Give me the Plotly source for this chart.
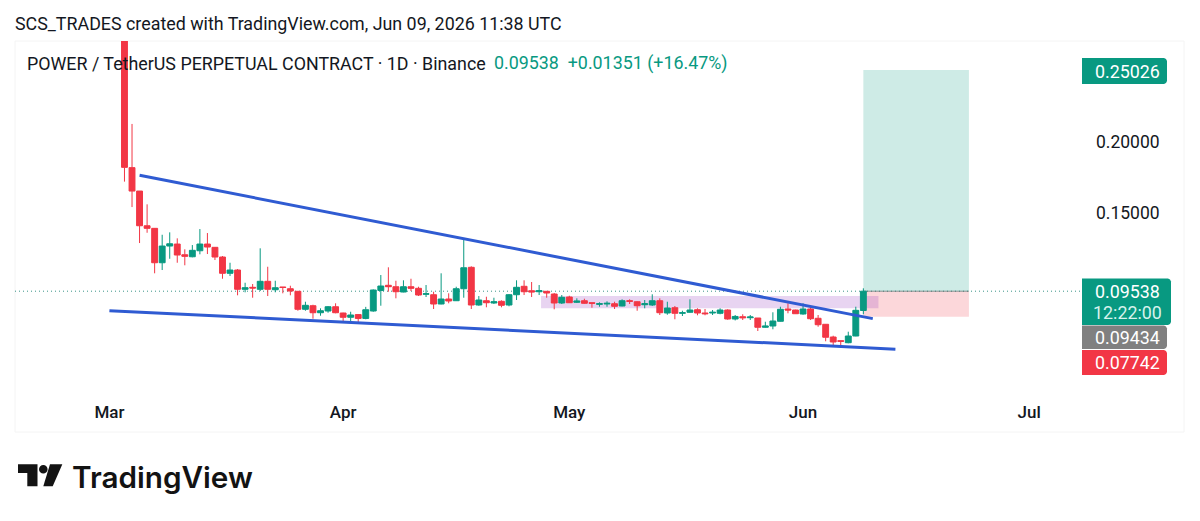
import pandas as pd
import plotly.graph_objects as go

# Daily POWER/USDT perpetual candles, first session 2026-03-03
opens = [
    .330, .1819, .1655, .1412, .1394, .1153, .1270, .1284, .1209, .1195,
    .1237, .1284, .1261, .1193, .1079, .1102, .0967, .0981, .0967, .1023,
    .0964, .0983, .0971, .0953, .0827, .0852, .0803, .0815, .0845, .0801,
    .0771, .0790, .0763, .0815, .0959, .0995, .0985, .0948, .0985, .0974,
    .0932, .0929, .0864, .0899, .0887, .0971, .1121, .0857, .0887, .0871,
    .0883, .0857, .0929, .0988, .0957, .0950, .0953, .0934, .0871, .0913,
    .0876, .0887, .0873, .0862, .0864, .0866, .0850, .0887, .0880, .0859,
    .0857, .0887, .0801, .0838, .0799, .0806, .0824, .0801, .0801, .0799,
    .0822, .0759, .0775, .0768, .0766, .0701, .0710, .0743, .0829, .0822,
    .0794, .0829, .0764, .0722, .0633, .0607, .0593, .0640, .08187,
]
highs = [
    .360, .2125, .1655, .1562, .1396, .1349, .1366, .1324, .1247, .1277,
    .1389, .1361, .1263, .1200, .1153, .1109, .1013, .1004, .1254, .1125,
    .1027, .0983, .0992, .0955, .0880, .0859, .0834, .0850, .0869, .0803,
    .0810, .0794, .0844, .0966, .1067, .1121, .1027, .1030, .1041, .0985,
    .0997, .0950, .1079, .0939, .0985, .1312, .1128, .0920, .0915, .0908,
    .0890, .0934, .1030, .1030, .1018, .0997, .0955, .0941, .0927, .0922,
    .0904, .0901, .0873, .0876, .0883, .0880, .0897, .0897, .0883, .0892,
    .0932, .0904, .0880, .0850, .0817, .0897, .0834, .0829, .0822, .0834,
    .0827, .0787, .0792, .0787, .0766, .0740, .0806, .0845, .0869, .0824,
    .0869, .0841, .0787, .0724, .0642, .0607, .0670, .0845, .0974,
]
lows = [
    .1721, .1543, .1291, .1363, .1079, .1102, .1181, .1153, .1135, .1191,
    .1212, .1214, .1172, .1041, .1060, .0925, .0946, .0908, .0955, .0920,
    .0946, .0939, .0925, .0817, .0817, .0761, .0782, .0803, .0799, .0731,
    .0740, .0731, .0757, .0810, .0852, .0950, .0904, .0946, .0955, .0920,
    .0913, .0829, .0862, .0869, .0885, .0908, .0829, .0852, .0841, .0864,
    .0841, .0848, .0892, .0927, .0913, .0927, .0908, .0827, .0864, .0871,
    .0871, .0866, .0838, .0845, .0845, .0829, .0848, .0864, .0817, .0834,
    .0850, .0787, .0789, .0757, .0780, .0803, .0785, .0785, .0787, .0792,
    .0754, .0749, .0752, .0752, .0675, .0698, .0687, .0741, .0799, .0794,
    .0789, .0752, .0705, .0603, .0565, .0563, .0589, .0638, .0792,
]
closes = [
    .1821, .1655, .1412, .1394, .1153, .1270, .1286, .1207, .1198, .1240,
    .1284, .1263, .1193, .1079, .1102, .0967, .0978, .0976, .1023, .0967,
    .0978, .0980, .0955, .0827, .0855, .0803, .0817, .0845, .0803, .0771,
    .0787, .0763, .0824, .0962, .0990, .0985, .0950, .0985, .0974, .0927,
    .0936, .0864, .0899, .0885, .0971, .1118, .0857, .0892, .0873, .0880,
    .0855, .0929, .0981, .0950, .0948, .0957, .0941, .0871, .0911, .0873,
    .0885, .0869, .0869, .0866, .0869, .0848, .0887, .0883, .0852, .0866,
    .0887, .0803, .0836, .0799, .0803, .0822, .0801, .0796, .0806, .0822,
    .0759, .0777, .0768, .0773, .0701, .0710, .0745, .0827, .0822, .0796,
    .0829, .0761, .0719, .0631, .0598, .0603, .0640, .0820, .09538,
]
dates = pd.date_range("2026-03-03", periods=len(closes), freq="D")

# Falling-wedge trendlines
upper_dates = ["2026-03-05", "2026-06-10 06:00"]
upper_prices = [.17654, .07615]
lower_dates = ["2026-03-01", "2026-06-13 06:00"]
lower_prices = [.08172, .05480]

# Long position tool and the supply zone
last_price = .09538
target_price = .25026
stop_price = .07742
position_start, position_end = "2026-06-09", "2026-06-23"
zone_start, zone_end = "2026-04-27 06:00", "2026-06-11"
zone_low, zone_high = .0834, .0920

month_ticks = ["2026-03-01", "2026-04-01", "2026-05-01", "2026-06-01", "2026-07-01"]
month_labels = ["Mar", "Apr", "May", "Jun", "Jul"]
price_ticks = [.15, .20]
price_labels = ["0.15000", "0.20000"]

GREEN = "#089981"
RED = "#F23645"
INK = "#131722"
BLUE = "#2F5BD2"
FONT = "Roboto"

# Plot rectangle inside the 1200x521 page
LEFT, RIGHT, TOP, BOTTOM = 15, 1082, 41, 396


def px(x):
    return (x - LEFT) / (RIGHT - LEFT)


def py(y):
    return (BOTTOM - y) / (BOTTOM - TOP)


def page_path(points):
    return "M" + " L".join(f"{px(a):.5f},{py(b):.5f}" for a, b in points) + " Z"


def pill(x0, x1, y0, y1, color, r=3):
    """Price tag with softly rounded right corners."""
    steps = [(x0, y0), (x1 - r, y0), (x1 - 1, y0 + 1), (x1, y0 + r),
             (x1, y1 - r), (x1 - 1, y1 - 1), (x1 - r, y1), (x0, y1)]
    return dict(type="path", xref="paper", yref="paper", path=page_path(steps),
                fillcolor=color, line_width=0, layer="above")


def label(x, y, text, color=INK, size=17.85, anchor="left"):
    return dict(xref="paper", yref="paper", x=px(x), y=py(y), text=text, showarrow=False,
                xanchor=anchor, yanchor="middle", align="left",
                xshift=-2 if anchor == "left" else 0,
                font=dict(family=FONT, size=size, color=color))


fig = go.Figure()
fig.add_trace(go.Candlestick(
    x=dates, open=opens, high=highs, low=lows, close=closes,
    increasing=dict(line=dict(color=GREEN, width=1), fillcolor=GREEN),
    decreasing=dict(line=dict(color=RED, width=1), fillcolor=RED),
    whiskerwidth=0, hoverinfo="skip", showlegend=False,
))
for xs, ys in ((upper_dates, upper_prices), (lower_dates, lower_prices)):
    fig.add_trace(go.Scatter(x=xs, y=ys, mode="lines", line=dict(color=BLUE, width=3),
                             hoverinfo="skip", showlegend=False))

shapes = [
    # Card outline
    dict(type="rect", xref="paper", yref="paper", x0=px(15), x1=px(1184), y0=py(432), y1=py(41),
         line=dict(color="#F4F4F4", width=1), layer="below"),
    dict(type="rect", x0=position_start, x1=position_end, y0=last_price, y1=target_price,
         fillcolor="rgba(8,153,129,0.2)", line_width=0, layer="below"),
    dict(type="rect", x0=position_start, x1=position_end, y0=stop_price, y1=last_price,
         fillcolor="rgba(242,54,69,0.2)", line_width=0, layer="below"),
    dict(type="rect", x0=zone_start, x1=zone_end, y0=zone_low, y1=zone_high,
         fillcolor="rgba(149,60,190,0.22)", line_width=0, layer="below"),
    dict(type="line", xref="paper", x0=0, x1=1, y0=last_price, y1=last_price,
         line=dict(color="rgba(8,120,105,0.8)", width=1, dash="1px,3px"), layer="below"),
    dict(type="line", x0=position_start, x1=position_end, y0=last_price, y1=last_price,
         line=dict(color="rgba(90,110,110,0.7)", width=1), layer="below"),
    # Price tags
    pill(1082, 1167, 58, 84, GREEN),
    pill(1082, 1171, 278.5, 325, GREEN),
    pill(1082, 1167, 325.5, 349, "#808080"),
    pill(1082, 1167, 350, 375, RED),
    # Brand mark
    dict(type="path", xref="paper", yref="paper", fillcolor="#131313", line_width=0,
         path=page_path([(18, 464.3), (37.5, 464.3), (37.5, 486.3), (27.3, 486.3), (27.3, 473), (18, 473)])),
    dict(type="path", xref="paper", yref="paper", fillcolor="#131313", line_width=0,
         path=page_path([(50, 464.3), (62.3, 464.3), (52.7, 486.3), (43.3, 486.3)])),
    dict(type="circle", xref="paper", yref="paper", fillcolor="#131313", line_width=0,
         x0=px(39), x1=px(47.6), y0=py(473.6), y1=py(465)),
]

annotations = [
    label(15, 23, "SCS_TRADES created with TradingView.com, Jun 09, 2026 11:38 UTC"),
    label(27, 63, "POWER / TetherUS PERPETUAL CONTRACT · 1D · Binance"),
    label(494, 63, "0.09538&nbsp;&nbsp;+0.01351 (+16.47%)", color=GREEN),
    label(1127.5, 71, "0.25026", color="#FFFFFF", anchor="center"),
    label(1127.5, 291.5, "0.09538", color="#FFFFFF", anchor="center"),
    label(1127.5, 312, "12:22:00", color="#D6F2EC", anchor="center"),
    label(1127.5, 337, "0.09434", color="#FFFFFF", anchor="center"),
    label(1127.5, 362.5, "0.07742", color="#FFFFFF", anchor="center"),
    dict(xref="paper", yref="paper", x=px(70), y=py(477), text="TradingView", showarrow=False,
         xanchor="left", yanchor="middle",
         font=dict(family="Inter", size=29.7, color="#131313", weight=600)),
]

fig.update_layout(
    width=1200, height=521, autosize=False,
    margin=dict(l=LEFT, r=1200 - RIGHT, t=TOP, b=521 - BOTTOM),
    paper_bgcolor="#FFFFFF", plot_bgcolor="#FFFFFF",
    boxgroupgap=0, boxgap=0.22,
    shapes=shapes, annotations=annotations,
    xaxis=dict(
        type="date", range=["2026-02-16 11:30", "2026-07-08"], rangeslider_visible=False,
        tickmode="array", tickvals=month_ticks, ticktext=month_labels,
        showgrid=False, zeroline=False, showline=False, ticks="",
        tickfont=dict(family=FONT, size=17, color=INK, weight=500), ticklabelstandoff=4,
    ),
    yaxis=dict(
        side="right", range=[.02198, .27059],
        tickmode="array", tickvals=price_ticks, ticktext=price_labels,
        showgrid=False, zeroline=False, showline=False, ticks="",
        tickfont=dict(family=FONT, size=17.5, color=INK), ticklabelstandoff=13,
    ),
)

fig.write_html("out.html")
